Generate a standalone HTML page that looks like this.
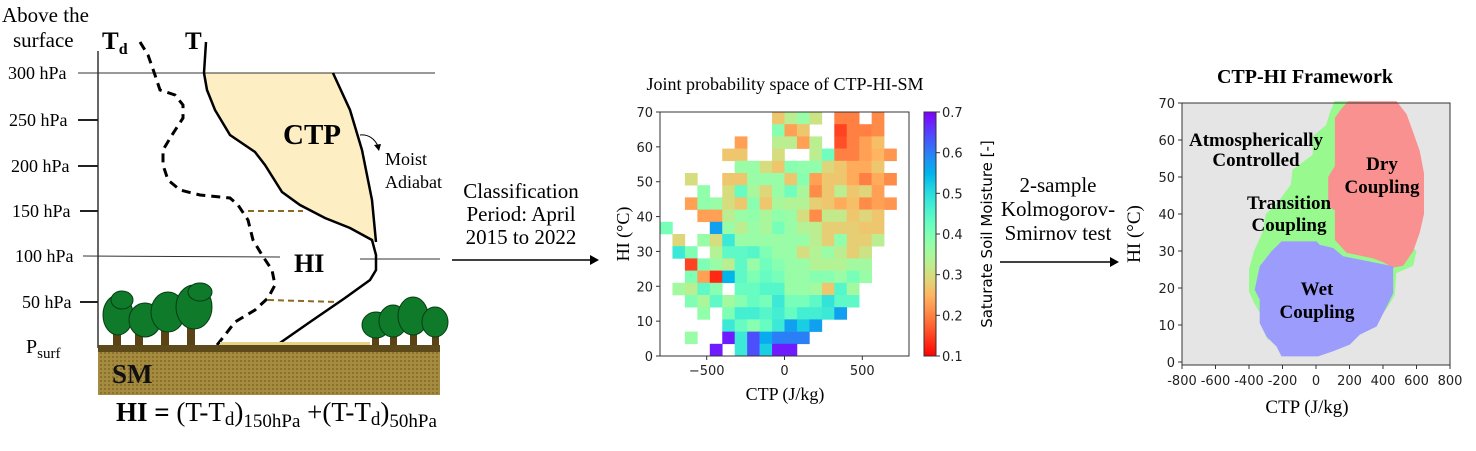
<!DOCTYPE html>
<html><head><meta charset="utf-8"><style>
body{margin:0;background:#fff}
svg text{font-family:"Liberation Serif",serif}
.tk{font-family:"DejaVu Sans","Liberation Sans",sans-serif;font-size:13px;fill:#222}
</style></head><body>
<svg id="fig" width="1476" height="446" viewBox="0 0 1476 446" xmlns="http://www.w3.org/2000/svg">
<defs>
<pattern id="soil" width="4" height="4" patternUnits="userSpaceOnUse"><rect width="4" height="4" fill="#a58b3e"/><rect x="0" y="0" width="2" height="2" fill="#8a7130"/></pattern>
</defs>
<g id="diagram">
<text x="2" y="22" font-size="21">Above the</text>
<text x="13" y="47" font-size="21">surface</text>
<polygon fill="#fdeec3" points="204,73 333,73 350,110 362,150 372,200 376,242 372,240 350,228 325,218 300,205 282,192 265,165 255,152 230,135 215,110 207,90"/>
<line x1="98" y1="51" x2="98" y2="348" stroke="#333" stroke-width="1.5"/>
<line x1="78" y1="73" x2="435" y2="73" stroke="#333" stroke-width="1"/>
<line x1="83" y1="256" x2="280" y2="257" stroke="#333" stroke-width="1"/>
<line x1="360" y1="259" x2="440" y2="259" stroke="#333" stroke-width="1"/>
<g stroke="#222" stroke-width="2">
<line x1="78" y1="120" x2="98" y2="120"/><line x1="78" y1="166" x2="98" y2="166"/><line x1="80" y1="211" x2="98" y2="211"/><line x1="80" y1="302" x2="98" y2="302"/></g>
<g font-size="18">
<text x="8" y="79">300 hPa</text><text x="9" y="126">250 hPa</text><text x="11" y="172">200 hPa</text><text x="12" y="217">150 hPa</text><text x="15" y="262">100 hPa</text><text x="22" y="308">50 hPa</text>
<text x="26" y="353" font-size="20">P<tspan font-size="15" dy="5">surf</tspan></text></g>
<text x="102" y="49" font-size="25" font-weight="bold">T<tspan font-size="16" dy="5">d</tspan></text>
<text x="185" y="49" font-size="25" font-weight="bold">T</text>
<polyline fill="none" stroke="#000" stroke-width="2.5" points="333,73 350,110 362,150 372,200 376,242"/>
<polyline fill="none" stroke="#000" stroke-width="2.5" points="206,42 204,73 207,90 215,110 230,135 255,152 265,165 282,192 300,205 325,218 350,228 372,240 376,255 376,270 370,280 345,298 310,322 277,345"/>
<polyline fill="none" stroke="#000" stroke-width="3" stroke-dasharray="9,6" points="140,42 148,55 155,75 160,90 175,95 183,105 183,118 172,135 163,150 163,165 168,180 180,190 200,195 230,198 238,205 248,220 253,240 262,255 272,270 275,285 268,298 255,310 235,322 225,335 217,345"/>
<line x1="248" y1="211" x2="303" y2="211" stroke="#8b6b20" stroke-width="2" stroke-dasharray="6,4"/>
<line x1="268" y1="300" x2="338" y2="302" stroke="#8b6b20" stroke-width="2" stroke-dasharray="6,4"/>
<text x="283" y="144" font-size="29" font-weight="bold">CTP</text>
<text x="294" y="272" font-size="26" font-weight="bold">HI</text>
<path d="M360,135 Q372,134 378,146" fill="none" stroke="#000" stroke-width="1"/>
<polygon points="374,145 381,144 379,151" fill="#000"/>
<text x="385" y="165" font-size="18">Moist</text>
<text x="385" y="188" font-size="18">Adiabat</text>
<g>
<g fill="#5a4416"><rect x="113" y="320" width="8" height="26"/><rect x="135" y="320" width="8" height="26"/><rect x="161" y="320" width="8" height="26"/><rect x="187" y="320" width="8" height="26"/></g>
<g fill="#0f7a2a" stroke="#063d12" stroke-width="1">
<ellipse cx="118" cy="315" rx="15" ry="20"/><ellipse cx="145" cy="320" rx="16" ry="17"/><ellipse cx="168" cy="312" rx="17" ry="20"/><ellipse cx="194" cy="307" rx="18" ry="22"/><ellipse cx="122" cy="300" rx="11" ry="9"/><ellipse cx="200" cy="292" rx="12" ry="9"/></g></g>
<g>
<g fill="#5a4416"><rect x="372" y="325" width="7" height="21"/><rect x="390" y="325" width="7" height="21"/><rect x="410" y="325" width="7" height="21"/><rect x="432" y="325" width="7" height="21"/></g>
<g fill="#0f7a2a" stroke="#063d12" stroke-width="1">
<ellipse cx="376" cy="325" rx="14" ry="13"/><ellipse cx="393" cy="321" rx="14" ry="16"/><ellipse cx="413" cy="316" rx="15" ry="19"/><ellipse cx="435" cy="322" rx="13" ry="15"/></g></g>
<rect x="220" y="342" width="150" height="3" fill="#e6d38a"/>
<rect x="98" y="345" width="342" height="7" fill="#5c4a1a"/>
<rect x="98" y="352" width="342" height="43" fill="url(#soil)"/>
<text x="112" y="383" font-size="27" font-weight="bold" fill="#111">SM</text>
<text x="116" y="421" font-size="27"><tspan font-weight="bold">HI = </tspan>(T-T<tspan font-size="19" dy="4">d</tspan><tspan dy="-4">)</tspan><tspan font-size="19" dy="6">150hPa</tspan><tspan dy="-6"> +(T-T</tspan><tspan font-size="19" dy="4">d</tspan><tspan dy="-4">)</tspan><tspan font-size="19" dy="6">50hPa</tspan></text>
</g>
<g>
<text x="521" y="198" font-size="21" text-anchor="middle">Classification</text>
<text x="521" y="221" font-size="21" text-anchor="middle">Period: April</text>
<text x="521" y="244" font-size="21" text-anchor="middle">2015 to 2022</text>
<line x1="452" y1="260" x2="592" y2="260" stroke="#000" stroke-width="1.5"/><polygon points="590,255 599,260 590,265" fill="#000"/>
</g>
<g>
<text x="1058" y="192" font-size="21" text-anchor="middle">2-sample</text>
<text x="1058" y="216" font-size="21" text-anchor="middle">Kolmogorov-</text>
<text x="1058" y="240" font-size="21" text-anchor="middle">Smirnov test</text>
<line x1="1000" y1="262" x2="1112" y2="262" stroke="#000" stroke-width="1.5"/><polygon points="1110,257 1119,262 1110,267" fill="#000"/>
</g>
<g id="heat"></g>
<g id="frame"></g>
</svg>
<script>
const NS="http://www.w3.org/2000/svg";
const n=null;
const hmXTicks=[-500,0,500];
const hmYTicks=[0,10,20,30,40,50,60,70];
const cbTicks=[0.1,0.2,0.3,0.4,0.5,0.6,0.7];
const binWidth=80, binHeight=3.5, xStart=-800;
const smGrid=[
[n,n,n,n,n,n,n,n,n,.27,.33,.37,.31,n,.2,.2,n,.21,n,n],
[n,n,n,n,n,n,n,n,n,.39,.23,.27,n,n,.15,.2,.2,.21,n,n],
[n,n,n,n,n,n,.23,n,n,.33,.33,.23,.33,n,.16,.2,.23,.26,n,n],
[n,n,n,n,n,.27,.27,n,n,.3,n,n,.33,.42,.2,.2,.23,.25,.22,n],
[n,n,n,n,n,n,.37,.37,.3,.27,.39,.38,.38,.29,.27,.24,.24,.27,n,n],
[n,n,.3,n,n,.27,.27,.37,.37,.37,.27,.39,.23,.27,.27,.24,.2,.24,.21,n],
[n,n,n,.38,n,.3,.43,.35,.29,.37,.42,.35,.21,.27,.33,.27,.29,.23,n,n],
[n,n,.23,.38,.37,.3,.27,.39,.27,.35,.34,.34,.28,.27,.24,.26,.21,.23,.22,n],
[n,n,n,.23,.23,.33,.37,.38,.35,.38,.37,.3,.21,.32,.32,.27,.29,.27,n,n],
[.41,n,n,n,.57,.37,.33,.37,.35,.41,.37,.34,.33,.28,.28,.28,.27,.27,n,n],
[n,.29,n,.37,.3,.48,.37,.37,.37,.37,.37,.37,.33,.28,.38,.28,.28,.33,n,n],
[n,.48,.4,n,.34,.44,.44,.45,.4,.37,.37,.3,.34,.37,.33,.28,.31,n,n,n],
[n,n,.15,.4,.37,.33,.44,.37,.42,.39,.37,.37,.34,.34,.34,.36,.36,n,n,n],
[n,n,.4,.23,.13,.55,.44,.4,.43,.41,.37,.37,.39,.39,.37,.41,.37,n,n,n],
[n,.36,.33,.44,.39,n,.43,.43,.45,.45,.37,.37,.36,.27,.45,.36,n,n,n,n],
[n,n,.4,.35,.44,.36,.39,.43,.41,.48,.41,.41,.44,.49,.44,.44,n,n,n,n],
[n,n,n,.38,n,.4,.47,.47,.45,.47,.43,.47,.47,.48,.57,n,n,n,n,n],
[n,n,n,n,n,.48,.43,.39,.43,.48,.57,.52,.57,n,n,n,n,n,n,n],
[n,n,.37,n,n,.68,.48,.64,.56,.6,.6,.6,n,n,n,n,n,n,n,n],
[n,n,n,n,.68,n,.48,.64,.52,.68,.68,n,n,n,n,n,n,n,n,n]];
const fwXTicks=[-800,-600,-400,-200,0,200,400,600,800];
const fwYTicks=[0,10,20,30,40,50,60,70];
const greenRegion=[[110,70.5],[260,70.5],[260,45],[600,30],[580,26],[480,24],[470,18],[430,15],[380,12],[200,6],[-290,6],[-320,12],[-370,16],[-400,19],[-400,25],[-370,30],[-320,35],[-300,40],[-230,43],[-150,48],[-140,52],[-20,56],[-20,61],[60,64],[80,67]];
const dryRegion=[[192,70.5],[481,70.5],[541,67],[581,62],[620,57],[645,51],[645,40],[620,35],[581,30],[551,28],[520,26],[461,25.5],[400,27],[340,28],[182,29.5],[113,33],[113,41],[73,42],[73,50],[113,53],[113,66],[152,68.5]];
const wetRegion=[[-206,32.6],[3,32.6],[22,31.7],[102,30.8],[162,28.6],[461,25.9],[461,18.6],[422,15],[362,9.6],[262,7.4],[202,4.7],[102,2.9],[13,1.5],[-206,1.5],[-236,4.2],[-296,6.9],[-336,10.5],[-336,16.8],[-366,19.5],[-336,25.9],[-266,29.9]];

function mk(p,tag,at,txt){const e=document.createElementNS(NS,tag);for(const k in at)e.setAttribute(k,at[k]);if(txt!==undefined)e.textContent=txt;p.appendChild(e);return e;}
function cmap(v){
 const t=1-((v-0.1)/0.6);
 let r=Math.abs(2*t-0.5),g=Math.sin(Math.PI*t),b=Math.cos(Math.PI*t/2);
 r=Math.min(1,Math.max(0,r));g=Math.min(1,Math.max(0,g));b=Math.min(1,Math.max(0,b));
 return `rgb(${Math.round(r*255)},${Math.round(g*255)},${Math.round(b*255)})`;}
// heatmap
const H=document.getElementById('heat');
const hx=v=>660+(v+800)/1600*249, hy=v=>356-v/70*244;
mk(H,'text',{x:785,y:90,'font-size':18,'text-anchor':'middle'},'Joint probability space of CTP-HI-SM');
smGrid.forEach((row,t)=>row.forEach((v,c)=>{if(v===null)return;
 const x0=xStart+c*binWidth, top=70-t*binHeight;
 const r=mk(H,'rect',{x:hx(x0),y:hy(top),width:hx(x0+binWidth)-hx(x0)+0.3,height:hy(top-binHeight)-hy(top)+0.3,fill:cmap(v)});
 
 }));
mk(H,'rect',{x:660,y:112,width:249,height:244,fill:'none',stroke:'#333','stroke-width':1});
hmXTicks.forEach(v=>{mk(H,'line',{x1:hx(v),x2:hx(v),y1:356,y2:360,stroke:'#333'});const e=mk(H,'text',{x:hx(v),y:375,'text-anchor':'middle',class:'tk','font-size':14},v<0?'\u2212'+(-v):v);});
hmYTicks.forEach(v=>{mk(H,'line',{x1:656,x2:660,y1:hy(v),y2:hy(v),stroke:'#333'});const e=mk(H,'text',{x:653,y:hy(v)+5,'text-anchor':'end',class:'tk','font-size':14},v);});
mk(H,'text',{x:785,y:400,'font-size':18,'text-anchor':'middle'},'CTP (J/kg)');
mk(H,'text',{x:0,y:0,'font-size':18,'text-anchor':'middle',transform:'translate(629,234) rotate(-90)'},'HI (°C)');
// colorbar
const cy=v=>356-(v-0.1)/0.6*244;
for(let i=0;i<122;i++){const v=0.1+i*0.6/122;mk(H,'rect',{x:924,y:cy(v+0.6/122),width:12,height:2.3,fill:cmap(v+0.003)});}
mk(H,'rect',{x:924,y:112,width:12,height:244,fill:'none',stroke:'#333'});
cbTicks.forEach(v=>{mk(H,'line',{x1:936,x2:940,y1:cy(v),y2:cy(v),stroke:'#333'});const e=mk(H,'text',{x:942,y:cy(v)+5,class:'tk','font-size':14},v.toFixed(1));});
mk(H,'text',{x:0,y:0,'font-size':15,'text-anchor':'middle',transform:'translate(992,234) rotate(-90)',style:'font-family:"DejaVu Sans",sans-serif'},'Saturate Soil Moisture [-]');
// framework
const F=document.getElementById('frame');
const fx=v=>1182+(v+800)/1600*268, fy=v=>362-v/70*259;
mk(F,'text',{x:1305,y:83,'font-size':20,'font-weight':'bold','text-anchor':'middle'},'CTP-HI Framework');
mk(F,'rect',{x:1182,y:103,width:268,height:262,fill:'#e5e5e5'});
const pts=a=>a.map(p=>fx(p[0]).toFixed(1)+','+fy(p[1]).toFixed(1)).join(' ');
let e=mk(F,'polygon',{points:pts(greenRegion),fill:'#98f98f'});
e=mk(F,'polygon',{points:pts(dryRegion),fill:'#fa9191'});
e=mk(F,'polygon',{points:pts(wetRegion),fill:'#9c9cfd'});
mk(F,'rect',{x:1182,y:103,width:268,height:262,fill:'none',stroke:'#333'});
fwXTicks.forEach(v=>{mk(F,'line',{x1:fx(v),x2:fx(v),y1:365,y2:369,stroke:'#333'});const t=mk(F,'text',{x:fx(v),y:385,'text-anchor':'middle',class:'tk','font-size':15},v);});
fwYTicks.forEach(v=>{mk(F,'line',{x1:1178,x2:1182,y1:fy(v),y2:fy(v),stroke:'#333'});const t=mk(F,'text',{x:1175,y:fy(v)+5,'text-anchor':'end',class:'tk','font-size':15},v);});
mk(F,'text',{x:1307,y:413,'font-size':19,'text-anchor':'middle'},'CTP (J/kg)');
mk(F,'text',{x:0,y:0,'font-size':19,'text-anchor':'middle',transform:'translate(1140,234) rotate(-90)'},'HI (°C)');
[['Atmospherically',1256,146],['Controlled',1256,166],['Dry',1382,170],['Coupling',1382,193],['Transition',1289,209],['Coupling',1289,231],['Wet',1317,295],['Coupling',1317,318]].forEach(d=>{const t=mk(F,'text',{x:d[1],y:d[2],'font-size':19,'font-weight':'bold','text-anchor':'middle'},d[0]);});
</script>
</body></html>
